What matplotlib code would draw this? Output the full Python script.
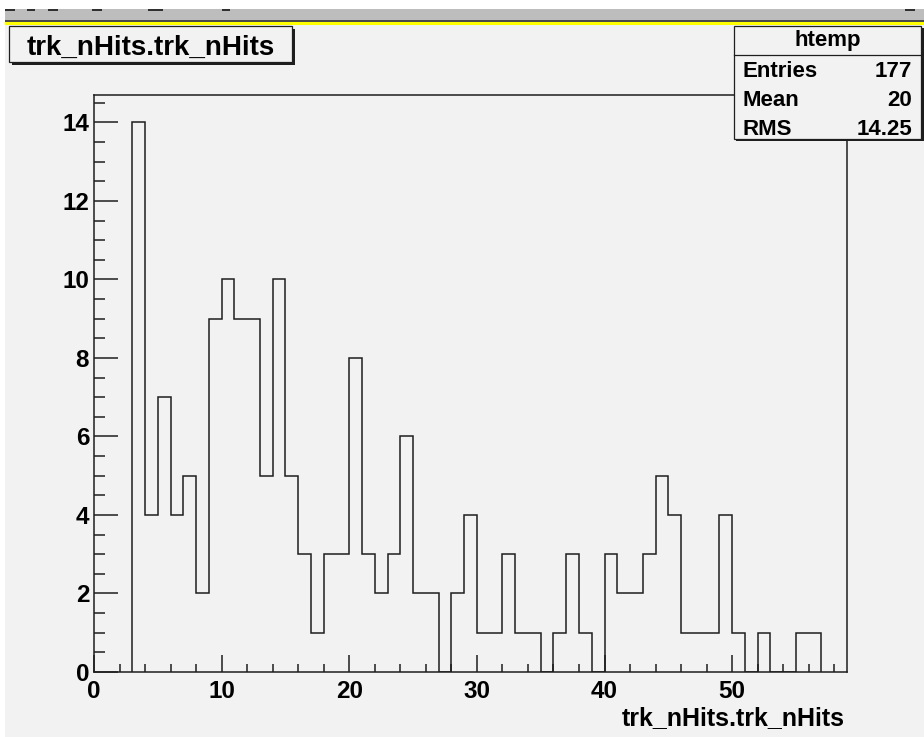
import numpy as np
import matplotlib
matplotlib.use('Agg')
import matplotlib.pyplot as plt
from matplotlib.patches import Rectangle
from matplotlib.ticker import MultipleLocator

# ---------------- data ----------------
counts = [14, 4, 7, 4, 5, 2, 9, 10, 9, 9, 5, 10, 5, 3, 1, 3, 3, 8, 3, 2, 3, 6, 2, 2, 0, 2, 4, 1,
          1, 3, 1, 1, 0, 1, 3, 1, 0, 3, 2, 2, 3, 5, 4, 1, 1, 1, 4, 1, 0, 1, 0, 0, 1, 1]
x_low = 3
bin_width = 1
title_text = 'trk_nHits.trk_nHits'
xlabel_text = 'trk_nHits.trk_nHits'
stats_name = 'htemp'
stats_labels = ['Entries', 'Mean', 'RMS']
stats_values = ['177', '20', '14.25']

edges = x_low + bin_width * np.arange(len(counts) + 1)

# ---------------- style ----------------
plt.rcParams['font.family'] = ['Liberation Sans', 'DejaVu Sans']
plt.rcParams['font.weight'] = 'bold'
W, H = 924, 737
BG = '#f2f2f2'
INK = '#1e1e1e'

fig = plt.figure(figsize=(W / 100, H / 100), dpi=100, facecolor=BG)
ax = fig.add_axes([94 / W, 1 - 672 / H, (847 - 94) / W, (672 - 95) / H])
ax.set_facecolor(BG)

ax.stairs(counts, edges, baseline=0, color=INK, lw=1.1)
ax.set_xlim(0, 59)
ax.set_ylim(0, 14.7)

for s in ax.spines.values():
    s.set_color(INK)
    s.set_linewidth(1.1)

ax.xaxis.set_major_locator(MultipleLocator(10))
ax.xaxis.set_minor_locator(MultipleLocator(2))
ax.yaxis.set_major_locator(MultipleLocator(2))
ax.yaxis.set_minor_locator(MultipleLocator(0.5))
ax.tick_params(which='both', direction='in', top=False, right=False, color=INK,
               labelsize=17.5, labelcolor='black')
ax.tick_params(axis='y', which='major', length=17, width=1.1, pad=3.5)
ax.tick_params(axis='y', which='minor', length=8, width=1.1)
ax.tick_params(axis='x', which='major', length=12, width=1.1, pad=6)
ax.tick_params(axis='x', which='minor', length=5.5, width=1.1)

ax.set_xlabel(xlabel_text, fontsize=18, fontweight='bold', ha='right', va='center')
ax.xaxis.set_label_coords((845 - 94) / (847 - 94), -(718 - 672) / (672 - 95))

# ---------------- overlay decorations (pixel coords) ----------------
ov = fig.add_axes([0, 0, 1, 1], zorder=10)
ov.set_xlim(0, W)
ov.set_ylim(H, 0)
ov.axis('off')
ov.patch.set_visible(False)

ov.add_patch(Rectangle((0, 0), W, 9, color='white', lw=0))
ov.add_patch(Rectangle((0, 0), 5, H, color='white', lw=0))
ov.add_patch(Rectangle((5, 9), W - 5, 11.5, color='#bdbdbd', lw=0))
ov.add_patch(Rectangle((5, 20), W - 5, 1.6, color='#4a4a4a', lw=0))
ov.add_patch(Rectangle((5, 21.6), W - 5, 3, color='#ffff00', lw=0))
for x0, x1 in [(5, 15), (27, 35), (48, 58), (92, 102), (148, 163), (222, 230), (905, 915)]:
    ov.add_patch(Rectangle((x0, 9), x1 - x0, 2, color='#303030', lw=0))

# title box
ov.add_patch(Rectangle((12, 29), 283, 36, color=INK, lw=0))
ov.add_patch(Rectangle((9, 26), 283, 36, fc=BG, ec=INK, lw=0.9))
ov.text(151, 55, title_text, fontsize=20, fontweight='bold', ha='center', va='baseline')

# stats box
ov.add_patch(Rectangle((736, 28), 188, 113, color=INK, lw=0))
ov.add_patch(Rectangle((734, 26), 187, 113, fc=BG, ec=INK, lw=0.9))
ov.plot([734, 921], [55, 55], color=INK, lw=0.9)
ov.text(828, 46, stats_name, fontsize=16, fontweight='bold', ha='center', va='baseline')
for i, (lab, val) in enumerate(zip(stats_labels, stats_values)):
    yb = 77 + i * 29
    ov.text(743, yb, lab, fontsize=16, fontweight='bold', ha='left', va='baseline')
    ov.text(912, yb, val, fontsize=16, fontweight='bold', ha='right', va='baseline')

fig.savefig('out.png', dpi=100, facecolor=BG)
